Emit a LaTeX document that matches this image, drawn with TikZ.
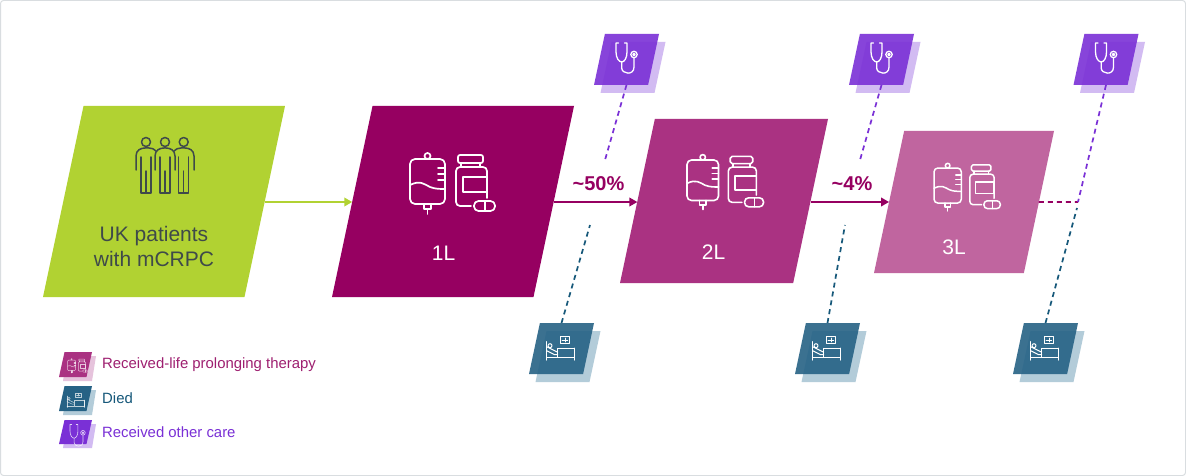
\documentclass[tikz,border=0pt]{standalone}
\usepackage{fontspec}
\setmainfont{Liberation Sans}
\usetikzlibrary{shapes.geometric,arrows.meta}
\definecolor{cgreen}{HTML}{B1D232}
\definecolor{cone}{HTML}{960061}
\definecolor{ctwo}{HTML}{AA3282}
\definecolor{cthree}{HTML}{C0659F}
\definecolor{cpurple}{HTML}{7A30D6}
\definecolor{cpurpleS}{HTML}{D2BBF2}
\definecolor{cblue}{HTML}{266285}
\definecolor{cblueS}{HTML}{B3CCD9}
\definecolor{ctext}{HTML}{3F4A4A}
\definecolor{cline}{HTML}{D9DDE0}
\definecolor{cdash}{HTML}{16587A}
\definecolor{cpinkS}{HTML}{E6C3DC}
\definecolor{clegA}{HTML}{9E1F70}
\tikzset{
  para/.style={shape=trapezium,trapezium left angle=76.6,trapezium right angle=103.4,trapezium stretches=true,inner sep=0pt,outer sep=0pt,draw=none},
  conn/.style={line width=1.9pt,-{Triangle[length=8pt,width=8.5pt]}},
  dashline/.style={line width=1.7pt,dash pattern=on 5pt off 4pt},
  ico/.style={draw=white,fill=none,line cap=round,line join=round},
  lbl/.style={inner sep=0pt,font=\fontsize{21}{24}\selectfont,text=white},
  pct/.style={inner sep=0pt,font=\fontsize{20}{24}\selectfont\bfseries,text=cone},
  legend/.style={inner sep=0pt,anchor=west,font=\fontsize{14.9}{17}\selectfont},
}
% therapy icon: origin at top-left of the bag
\newcommand{\therapyicon}[4]{%
\begin{scope}[shift={(#1,#2)},scale=#3,ico,line width=#4]
  \draw[rounded corners=5pt*#3] (0,0) rectangle (35,45);
  \draw (17.5,-3) circle[radius=3];
  \draw (14,45) -- (14,50) -- (21,50) -- (21,45);
  \draw (17.5,50) -- (17.5,55);
  \draw (28,9)--(35,9) (28,15)--(35,15) (28,21)--(35,21);
  \draw (0,26) .. controls (10,21) and (14,25) .. (20,28) .. controls (25,30) and (30,30) .. (35,30);
  \draw[rounded corners=2pt*#3] (48,-4) rectangle (73,4);
  \draw (51,4) -- (51,8) (70,4) -- (70,8);
  \draw[rounded corners=4pt*#3] (61,47) -- (46,47) -- (46,8) -- (77,8) -- (77,39);
  \draw (53,18) rectangle (77,33);
  \draw[rounded corners=4.5pt*#3] (64,42) rectangle (85,52);
  \draw (75,42) -- (75,52);
\end{scope}}
% stethoscope icon: origin at top-left earpiece
\newcommand{\stethoicon}[4]{%
\begin{scope}[shift={(#1,#2)},scale=#3,ico,line width=#4]
  \draw (2.5,0) -- (0,0) -- (0,9) .. controls (0,15) and (3,19) .. (5.7,19) .. controls (8.4,19) and (11,15) .. (11,9) -- (11,0) -- (8.5,0);
  \draw (5.7,19) -- (5.7,25) .. controls (5.7,31) and (18,33) .. (18,24) -- (18,15);
  \draw (18,11.5) circle[radius=3.2];
  \draw (18,11.5) circle[radius=1.2];
\end{scope}}
% bed icon: origin at top of headboard
\newcommand{\bedicon}[4]{%
\begin{scope}[shift={(#1,#2)},scale=#3,ico,line width=#4]
  \draw (0,0) -- (0,18.5);
  \draw (27.6,6.5) -- (27.6,18.5);
  \draw (11,6.5) rectangle (27.6,16);
  \draw (0,16) -- (11,16);
  \draw (3.3,4) circle[radius=2];
  \draw (0,5) -- (11,10.5);
  \draw (0,9) -- (8,13) -- (11,13);
  \draw (14,-5) rectangle (22.6,1.6);
  \draw (15.5,-1.7) -- (21,-1.7) (18.3,-3.6) -- (18.3,0.2);
\end{scope}}
% small boxes
\newcommand{\smallbox}[7]{%
  \path[fill=#5] (#2+6.5,#3+8) ++(-21.5,-25.5) -- ++(54,0) -- ++(-11,51) -- ++(-54,0) -- cycle;
  \node[para,fill=#4,fill opacity=.9,text opacity=0,minimum width=#6,minimum height=#7] (#1) at (#2,#3) {\phantom{x}};}
\newcommand{\personbody}[3]{%
  \draw (#1-5,157) -- (#1-5,193) -- (#1+5,193) -- (#1+5,157);
  \draw (#1,171) -- (#1,193);
  \draw (#1,142) circle[radius=4.5];
}
\begin{document}
\begin{tikzpicture}[x=1pt,y=-1pt]
\useasboundingbox (0,0) rectangle (1186,476);
\draw[cline,line width=1pt,fill=white,rounded corners=3pt] (0.5,0.5) rectangle (1185.5,475.5);

% main boxes
\node[para,fill=cgreen,minimum width=242,minimum height=191] (patients) at (164,201.5) {\phantom{x}};
\node[para,fill=cone,minimum width=242,minimum height=191] (first) at (453,201.5) {\phantom{x}};
\node[para,fill=ctwo,minimum width=208,minimum height=164] (second) at (724,201) {\phantom{x}};
\node[para,fill=cthree,minimum width=180,minimum height=142] (third) at (964,202) {\phantom{x}};

% text
\node[inner sep=0pt,font=\fontsize{21}{25}\selectfont,text=ctext,align=center] (ptxt) at (154,246) {UK patients\\with mCRPC};
\node[lbl] (t1) at (443.5,253) {1L};
\node[lbl] (t2) at (713.5,252) {2L};
\node[lbl] (t3) at (954,247) {3L};
\node[pct] (p50) at (598.5,184) {\textasciitilde50\%};
\node[pct] (p4) at (852,184) {\textasciitilde4\%};

% people icon
\begin{scope}[draw=ctext,line width=1.5pt,line join=round,line cap=round]
  \personbody{146}{0}{0}
  \personbody{165}{0}{0}
  \personbody{183.7}{0}{0}
  \draw (136,170) -- (136,156) .. controls (136,150) and (141,148) .. (145,148) -- (149,148) .. controls (152,148) and (154,149) .. (156,151);
  \draw (155,170) -- (155,156) .. controls (155,150) and (160,148) .. (164,148) -- (166,148) .. controls (170,148) and (175,150) .. (175,156) -- (175,170);
  \draw (174,151) .. controls (176,149) and (178,148) .. (181,148) -- (185,148) .. controls (189,148) and (194,150) .. (194,156) -- (194,170);
\end{scope}

% therapy icons
\therapyicon{410}{159}{1}{1.7pt}
\therapyicon{687}{160}{.9}{1.6pt}
\therapyicon{934}{168}{.78}{1.5pt}

% small boxes: other care
\smallbox{careA}{626.5}{59.5}{cpurple}{cpurpleS}{65}{51}
\smallbox{careB}{881.5}{59.5}{cpurple}{cpurpleS}{65}{51}
\smallbox{careC}{1106}{59.5}{cpurple}{cpurpleS}{65}{51}
\stethoicon{616}{43}{1}{1.3pt}
\stethoicon{871}{43}{1}{1.3pt}
\stethoicon{1095.5}{43}{1}{1.3pt}

% small boxes: died
\smallbox{diedA}{561.5}{348.5}{cblue}{cblueS}{65}{51}
\smallbox{diedB}{827.5}{348.5}{cblue}{cblueS}{65}{51}
\smallbox{diedC}{1045.5}{348.5}{cblue}{cblueS}{65}{51}
\bedicon{546.7}{341.7}{1}{1pt}
\bedicon{812.7}{341.7}{1}{1pt}
\bedicon{1030.7}{341.7}{1}{1pt}

% connectors
\draw[conn,cgreen] ([yshift=-.5pt]patients.east) -- ([yshift=-.5pt]patients.east -| first.west);
\draw[conn,cone] ([yshift=-.5pt]first.east) -- ([yshift=-.5pt]first.east -| second.west);
\draw[conn,cone] ([yshift=-1pt]second.east) -- ([yshift=-1pt]second.east -| third.west);
\coordinate (junction) at (1078,202);
\draw[dashline,cone] (third.east) -- (junction);
\coordinate (careAend) at (605,160);
\coordinate (careBend) at (860,160);
\coordinate (diedAend) at (590,225);
\coordinate (diedBend) at (845,225);
\coordinate (diedCend) at (1077,208);
\draw[dashline,cpurple] (careA.south) -- (careAend);
\draw[dashline,cpurple] (careB.south) -- (careBend);
\draw[dashline,cpurple] (careC.south) -- (junction);
\draw[dashline,cdash] (diedA.north) -- (diedAend);
\draw[dashline,cdash] (diedB.north) -- (diedBend);
\draw[dashline,cdash] (diedC.north) -- (diedCend);

% legend
\path[fill=cpinkS] (67,356) -- (96,356) -- (92,381) -- (63,381) -- cycle;
\node[para,fill=ctwo,minimum width=33,minimum height=25] (legA) at (75.5,364.5) {\phantom{x}};
\begin{scope}[opacity=.7]\therapyicon{67.5}{360}{.235}{.5pt}\end{scope}
\path[fill=cblueS] (67,390) -- (96,390) -- (92,415) -- (63,415) -- cycle;
\node[para,fill=cblue,minimum width=33,minimum height=25] (legB) at (75.5,398.5) {\phantom{x}};
\begin{scope}[opacity=.7]\bedicon{67}{396}{.62}{.5pt}\end{scope}
\path[fill=cpurpleS] (67,424) -- (96,424) -- (92,448) -- (63,448) -- cycle;
\node[para,fill=cpurple,minimum width=33,minimum height=24] (legC) at (75.5,432) {\phantom{x}};
\begin{scope}[opacity=.8]\stethoicon{70}{424.5}{.72}{.6pt}\end{scope}
\node[legend,text=clegA] (ltA) at (102,365) {Received-life prolonging therapy};
\node[legend,text=cdash] (ltB) at (102,398) {Died};
\node[legend,text=cpurple] (ltC) at (102,432) {Received other care};
\end{tikzpicture}
\end{document}
